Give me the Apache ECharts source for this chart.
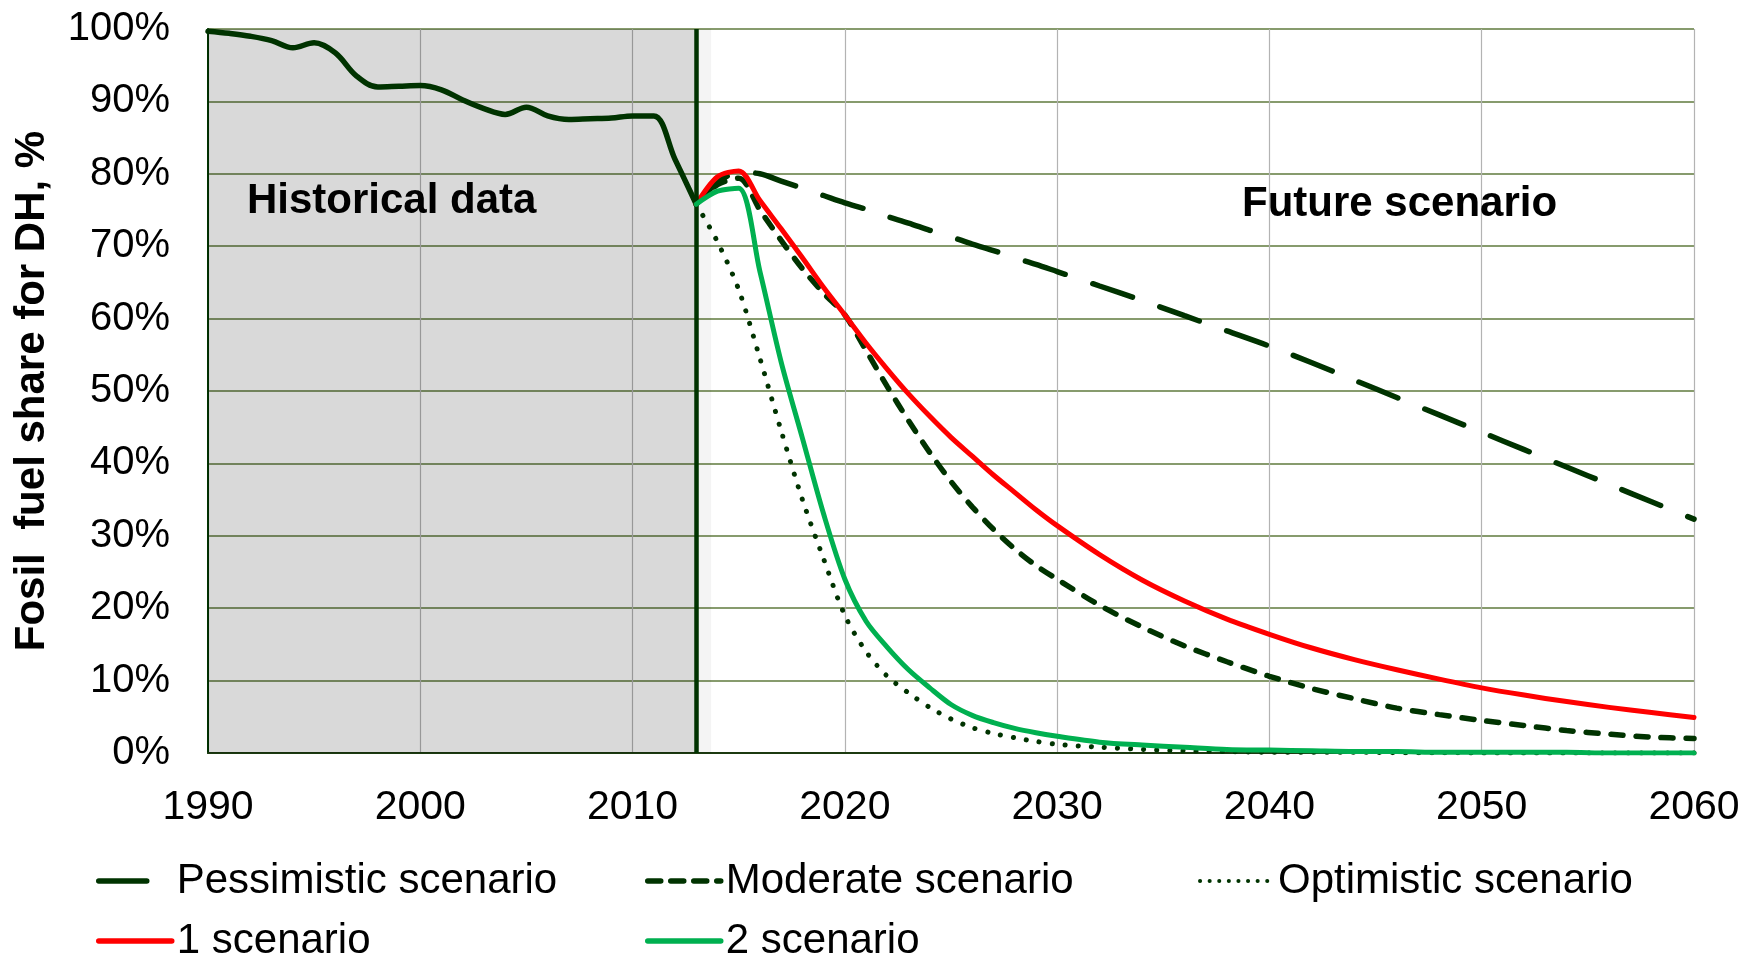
<!DOCTYPE html>
<html>
<head>
<meta charset="utf-8">
<title>Fossil fuel share for DH</title>
<script src="https://cdn.jsdelivr.net/npm/echarts@6/dist/echarts.min.js"></script>
<style>
  html, body { margin: 0; padding: 0; background: #fff; }
  #chart { width: 1744px; height: 956px; }
</style>
</head>
<body>
<div id="chart"></div>
<script>
// historical data (1990-2013)
const histYears = [1990, 1991, 1992, 1993, 1994, 1995, 1996, 1997, 1998, 1999, 2000, 2001,
  2002, 2003, 2004, 2005, 2006, 2007, 2008, 2009, 2010, 2011, 2012, 2013];
const histShare = [99.7, 99.4, 99.0, 98.4, 97.4, 98.1, 96.7, 93.5, 92.0, 92.1, 92.2, 91.6,
  90.2, 89.0, 88.2, 89.2, 88.0, 87.5, 87.6, 87.7, 88.0, 88.0, 82.0, 75.8];

// future scenarios
const futureYears = [2013, 2014, 2015, 2016, 2017, 2018, 2019, 2020, 2021, 2022, 2023, 2024,
  2025, 2026, 2027, 2028, 2029, 2030, 2032, 2034, 2036, 2038, 2040, 2042, 2044, 2046, 2048,
  2050, 2052, 2054, 2056, 2058, 2060];
const pessimistic = [75.8, 78.8, 80.2, 80.0, 79.0, 78.0, 77.0, 76.0, 75.1, 74.1, 73.2, 72.2,
  71.3, 70.3, 69.4, 68.4, 67.5, 66.5, 64.5, 62.5, 60.4, 58.3, 56.2, 53.9, 51.5, 49.1, 46.7,
  44.3, 41.9, 39.5, 37.1, 34.7, 32.3];
const moderate = [75.8, 78.5, 79.4, 75.0, 70.8, 66.9, 63.5, 60.5, 55.6, 50.6, 45.9, 41.5,
  37.5, 34.0, 30.9, 28.2, 25.9, 24.0, 20.4, 17.4, 14.8, 12.6, 10.6, 8.9, 7.5, 6.2, 5.3,
  4.5, 3.8, 3.1, 2.6, 2.2, 2.0];
const optimistic = [75.8, 70.6, 64.0, 54.5, 44.5, 35.0, 26.8, 19.0, 14.0, 10.6, 8.3, 6.3,
  4.7, 3.5, 2.7, 2.1, 1.6, 1.2, 0.8, 0.5, 0.3, 0.2, 0.1, 0.1, 0.1, 0.05, 0.05,
  0.0, 0.0, 0.0, 0.0, 0.0, 0.0];
const scenario1 = [75.8, 79.6, 80.4, 76.3, 72.4, 68.4, 64.3, 60.5, 56.6, 53.0, 49.6, 46.5,
  43.6, 41.0, 38.4, 36.0, 33.6, 31.4, 27.4, 23.9, 21.0, 18.5, 16.4, 14.5, 12.9, 11.5, 10.2,
  9.0, 8.0, 7.1, 6.3, 5.6, 4.9];
const scenario2 = [75.8, 77.6, 78.0, 66.5, 54.0, 43.5, 33.0, 24.0, 18.2, 14.6, 11.5, 9.0,
  6.7, 5.2, 4.2, 3.4, 2.8, 2.3, 1.5, 1.1, 0.8, 0.5, 0.4, 0.3, 0.2, 0.2, 0.1,
  0.1, 0.1, 0.1, 0.0, 0.0, 0.0];

const splitYear = 2013;
const yTicks = [0, 10, 20, 30, 40, 50, 60, 70, 80, 90, 100];

const FONT = "'Liberation Sans', Arial, sans-serif";
const DARK = '#003300';
const RED = '#ff0000';
const GREEN = '#00b050';

function pairs(xs, ys) {
  return xs.map(function (x, i) { return [x, ys[i]]; });
}

function legendFor(name, left, top, lineStyle) {
  return {
    data: [name],
    left: left,
    top: top,
    padding: 0,
    selectedMode: false,
    itemWidth: 73,
    itemHeight: 14,
    itemGap: 0,
    itemStyle: { opacity: 0 },
    lineStyle: lineStyle,
    textStyle: { fontFamily: FONT, fontSize: 42, color: '#000', lineHeight: 46 }
  };
}

const chart = echarts.init(document.getElementById('chart'));

const option = {
  animation: false,
  backgroundColor: '#fff',
  grid: { left: 208, right: 50, top: 29, bottom: 203 },
  legend: [
    legendFor('Pessimistic scenario', 96, 858, { color: DARK, width: 5.5, type: [48, 40], cap: 'round' }),
    legendFor('Moderate scenario', 645, 858, { color: DARK, width: 5.5, type: [13, 10], cap: 'round' }),
    legendFor('Optimistic scenario', 1198, 858, { color: DARK, width: 4, type: [0.1, 9.5], cap: 'round' }),
    legendFor('1 scenario', 96, 918, { color: RED, width: 5.5, type: 'solid', cap: 'round' }),
    legendFor('2 scenario', 645, 918, { color: GREEN, width: 5.5, type: 'solid', cap: 'round' })
  ],
  xAxis: {
    type: 'value',
    min: 1990,
    max: 2060,
    interval: 10,
    axisLine: { show: true, lineStyle: { color: '#1c3a10', width: 2 } },
    axisTick: { show: false },
    axisLabel: {
      fontFamily: FONT, fontSize: 41, color: '#000', margin: 34,
      formatter: function (v) { return String(v); }
    },
    splitLine: { show: true, lineStyle: { color: '#b3b3b3', width: 1.2 } }
  },
  yAxis: {
    type: 'value',
    min: yTicks[0],
    max: yTicks[yTicks.length - 1],
    interval: 10,
    name: 'Fosil  fuel share for DH, %',
    nameLocation: 'middle',
    nameGap: 155,
    nameTextStyle: { fontFamily: FONT, fontSize: 42, fontWeight: 'bold', color: '#000' },
    axisLine: { show: true, lineStyle: { color: DARK, width: 2 } },
    axisTick: { show: false },
    axisLabel: {
      fontFamily: FONT, fontSize: 40, color: '#000', margin: 38, formatter: '{value}%',
      padding: [9, 0, 0, 0]
    },
    splitLine: { show: true, lineStyle: { color: '#5f7a3c', width: 1.5 } }
  },
  graphic: [
    {
      type: 'text', x: 247, y: 201, z: 10,
      style: { text: 'Historical data', font: 'bold 42px ' + FONT, fill: '#000', verticalAlign: 'middle' }
    },
    {
      type: 'text', x: 1242, y: 204, z: 10,
      style: { text: 'Future scenario', font: 'bold 42px ' + FONT, fill: '#000', verticalAlign: 'middle' }
    }
  ],
  series: [
    {
      name: 'Historical',
      type: 'line',
      symbol: 'none',
      smooth: 0.35,
      z: 3,
      lineStyle: { color: DARK, width: 5.5, cap: 'round', join: 'round' },
      data: pairs(histYears, histShare),
      markArea: {
        silent: true,
        data: [
          [{ xAxis: 1990, itemStyle: { color: 'rgba(0,0,0,0.15)' } }, { xAxis: splitYear }],
          [{ xAxis: splitYear, itemStyle: { color: 'rgba(0,0,0,0.045)' } }, { xAxis: splitYear + 0.7 }]
        ]
      },
      markLine: {
        silent: true,
        symbol: 'none',
        label: { show: false },
        lineStyle: { color: DARK, width: 4.5, type: 'solid' },
        data: [{ xAxis: splitYear }]
      }
    },
    {
      name: 'Pessimistic scenario',
      type: 'line',
      symbol: 'none',
      smooth: 0.3,
      z: 3,
      lineStyle: { color: DARK, width: 5.5, type: [42, 29], cap: 'round' },
      data: pairs(futureYears, pessimistic)
    },
    {
      name: 'Moderate scenario',
      type: 'line',
      symbol: 'none',
      smooth: 0.3,
      z: 3,
      lineStyle: { color: DARK, width: 5.5, type: [12, 13], cap: 'round' },
      data: pairs(futureYears, moderate)
    },
    {
      name: 'Optimistic scenario',
      type: 'line',
      symbol: 'none',
      smooth: 0.3,
      z: 3,
      lineStyle: { color: DARK, width: 5, type: [0.1, 13], cap: 'round' },
      data: pairs(futureYears, optimistic)
    },
    {
      name: '1 scenario',
      type: 'line',
      symbol: 'none',
      smooth: 0.3,
      z: 4,
      lineStyle: { color: RED, width: 5, cap: 'round', join: 'round' },
      data: pairs(futureYears, scenario1)
    },
    {
      name: '2 scenario',
      type: 'line',
      symbol: 'none',
      smooth: 0.3,
      z: 5,
      lineStyle: { color: GREEN, width: 5, cap: 'round', join: 'round' },
      data: pairs(futureYears, scenario2)
    }
  ]
};

chart.setOption(option);
</script>
</body>
</html>
